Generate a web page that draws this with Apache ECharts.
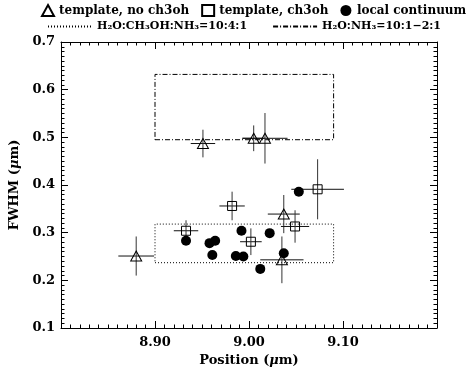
<!DOCTYPE html>
<html>
<head>
<meta charset="utf-8">
<script src="https://cdn.jsdelivr.net/npm/echarts@6/dist/echarts.min.js"></script>
<style>
  html, body { margin: 0; padding: 0; background: #fff; }
  #chart { width: 471px; height: 373px; }
</style>
</head>
<body>
<div id="chart"></div>
<script>
// template fit, no ch3oh (triangles)
const noMethPos = [8.951, 9.005, 9.017, 8.880, 9.037, 9.035];
const noMethFwhm = [0.487, 0.498, 0.498, 0.251, 0.339, 0.243];
const noMethPosErr = [0.013, 0.012, 0.024, 0.019, 0.017, 0.023];
const noMethFwhmErr = [0.029, 0.027, 0.053, 0.041, 0.040, 0.049];

// template fit, ch3oh (squares)
const methPos = [8.933, 8.982, 9.002, 9.049, 9.073];
const methFwhm = [0.304, 0.356, 0.281, 0.313, 0.391];
const methPosErr = [0.013, 0.0135, 0.0115, 0.015, 0.028];
const methFwhmErr = [0.022, 0.030, 0.028, 0.034, 0.063];

// local continuum (filled circles)
const localPos = [8.933, 8.958, 8.964, 8.961, 8.992, 8.986, 8.994, 9.012, 9.022, 9.037, 9.053];
const localFwhm = [0.283, 0.278, 0.283, 0.253, 0.304, 0.251, 0.250, 0.224, 0.299, 0.257, 0.386];

// lab ice boxes: [posMin, posMax, fwhmMin, fwhmMax]
const boxMixed = [8.90, 9.09, 0.237, 0.318];
const boxNH3 = [8.90, 9.09, 0.495, 0.632];

const seriesNames = ['template, no ch3oh', 'template, ch3oh', 'local continuum'];
const boxNames = ['H₂O:CH₃OH:NH₃=10:4:1', 'H₂O:NH₃=10:1−2:1'];

const font = 'DejaVu Serif';
const black = '#000';
const clear = 'rgba(0,0,0,0)';

function boxCorners(b) {
  return [[b[0], b[2]], [b[1], b[2]], [b[1], b[3]], [b[0], b[3]], [b[0], b[2]]];
}

// error bars drawn as a custom series
function errorBars(pos, fwhm, dpos, dfwhm) {
  return {
    type: 'custom',
    silent: true,
    z: 2,
    data: pos.map((p, i) => [p, fwhm[i], dpos[i], dfwhm[i]]),
    encode: { x: 0, y: 1 },
    renderItem: function (params, api) {
      const x = api.value(0), y = api.value(1);
      const dx = api.value(2), dy = api.value(3);
      const l = api.coord([x - dx, y]), r = api.coord([x + dx, y]);
      const t = api.coord([x, y + dy]), b = api.coord([x, y - dy]);
      return {
        type: 'group',
        children: [
          { type: 'line', shape: { x1: l[0], y1: l[1], x2: r[0], y2: r[1] }, style: { stroke: '#111', lineWidth: 1 } },
          { type: 'line', shape: { x1: t[0], y1: t[1], x2: b[0], y2: b[1] }, style: { stroke: '#333', lineWidth: 1 } }
        ]
      };
    }
  };
}

const tickLabel = { fontFamily: font, fontWeight: 'bold', fontSize: 13, color: black };
const nameStyle = {
  fontFamily: font, fontWeight: 'bold', fontSize: 13, color: black,
  rich: { i: { fontFamily: font, fontWeight: 'bold', fontStyle: 'italic', fontSize: 13, color: black } }
};

function frameAxis(extra) {
  return Object.assign({
    type: 'value',
    axisLine: { show: true, onZero: false, lineStyle: { color: black, width: 1 } },
    axisTick: { show: true, inside: true, length: 7, lineStyle: { color: black } },
    minorTick: { show: true, splitNumber: 10, length: 3.5, lineStyle: { color: black } },
    splitLine: { show: false },
    minorSplitLine: { show: false }
  }, extra);
}

const chart = echarts.init(document.getElementById('chart'));

chart.setOption({
  backgroundColor: '#fff',
  animation: false,
  grid: { left: 61, right: 34, top: 42, bottom: 45 },
  legend: [
    {
      data: seriesNames,
      left: 41, top: 4, width: 440,
      padding: 0,
      itemGap: 12, itemWidth: 12, itemHeight: 11,
      textStyle: { fontFamily: font, fontWeight: 'bold', fontSize: 12, color: black }
    },
    {
      data: boxNames,
      left: 47, top: 21, width: 440,
      padding: 0,
      itemGap: 25, itemWidth: 44, itemHeight: 10,
      itemStyle: { opacity: 0 },
      textStyle: { fontFamily: font, fontWeight: 'bold', fontSize: 11, color: black }
    }
  ],
  xAxis: [
    frameAxis({
      position: 'bottom', min: 8.8, max: 9.2, interval: 0.1,
      axisLabel: {
        ...tickLabel, margin: 8,
        formatter: v => (v < 8.85 || v > 9.15) ? '' : v.toFixed(2)
      },
      name: 'Position ({i|μ}m)', nameLocation: 'middle', nameGap: 26, nameTextStyle: nameStyle
    }),
    frameAxis({ position: 'top', min: 8.8, max: 9.2, interval: 0.1, axisLabel: { show: false } })
  ],
  yAxis: [
    frameAxis({
      position: 'left', min: 0.1, max: 0.7, interval: 0.1,
      axisLabel: { ...tickLabel, margin: 6, formatter: v => v.toFixed(1) },
      name: 'FWHM ({i|μ}m)', nameLocation: 'middle', nameGap: 33, nameTextStyle: nameStyle
    }),
    frameAxis({ position: 'right', min: 0.1, max: 0.7, interval: 0.1, axisLabel: { show: false } })
  ],
  series: [
    {
      name: boxNames[0], type: 'line', data: boxCorners(boxMixed),
      symbol: 'none', silent: true, z: 1,
      lineStyle: { color: black, width: 1, type: [1, 2] },
      itemStyle: { color: clear, opacity: 0 }
    },
    {
      name: boxNames[1], type: 'line', data: boxCorners(boxNH3),
      symbol: 'none', silent: true, z: 1,
      lineStyle: { color: black, width: 1, type: [5, 2, 1, 2] },
      itemStyle: { color: clear, opacity: 0 }
    },
    errorBars(noMethPos, noMethFwhm, noMethPosErr, noMethFwhmErr),
    errorBars(methPos, methFwhm, methPosErr, methFwhmErr),
    {
      name: seriesNames[0], type: 'scatter', z: 5,
      data: noMethPos.map((p, i) => [p, noMethFwhm[i]]),
      symbol: 'triangle', symbolSize: [11, 10],
      itemStyle: { color: clear, borderColor: black, borderWidth: 1, opacity: 1 }
    },
    {
      name: seriesNames[1], type: 'scatter', z: 5,
      data: methPos.map((p, i) => [p, methFwhm[i]]),
      symbol: 'rect', symbolSize: 9,
      itemStyle: { color: clear, borderColor: black, borderWidth: 1, opacity: 1 }
    },
    {
      name: seriesNames[2], type: 'scatter', z: 5,
      data: localPos.map((p, i) => [p, localFwhm[i]]),
      symbol: 'circle', symbolSize: 10,
      itemStyle: { color: black, opacity: 1 }
    }
  ]
});
</script>
</body>
</html>
